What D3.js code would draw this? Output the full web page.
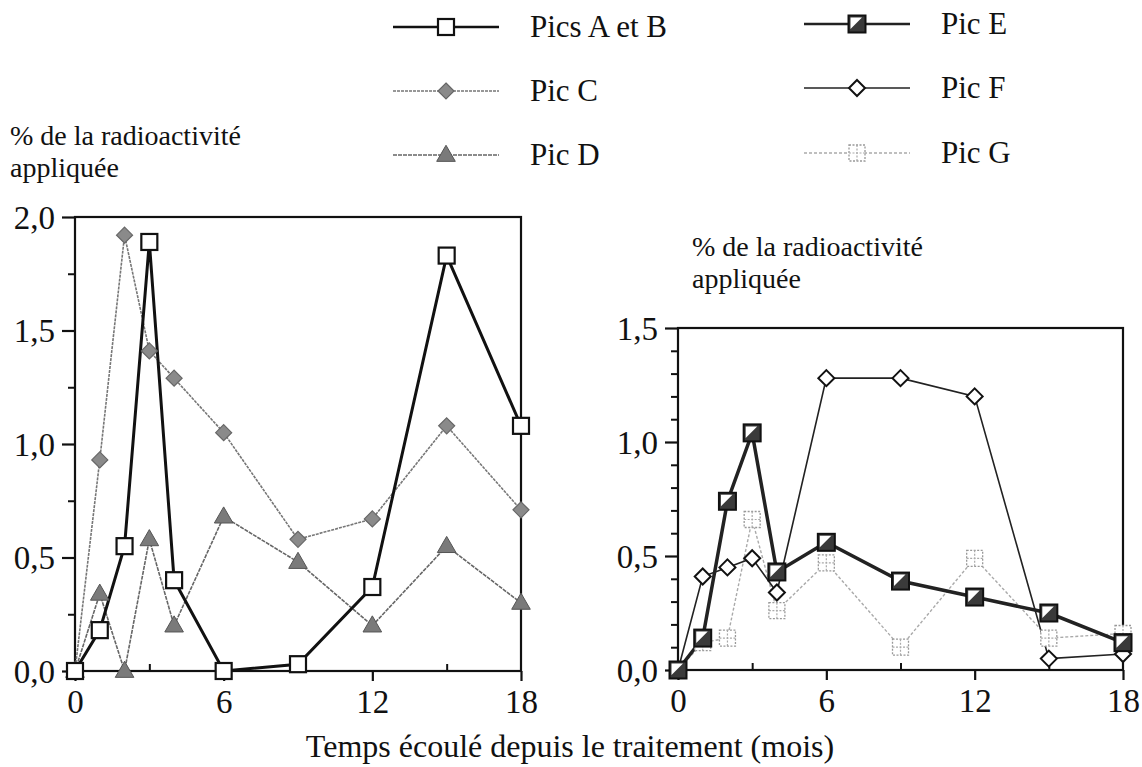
<!DOCTYPE html>
<html><head><meta charset="utf-8">
<script src="https://cdn.jsdelivr.net/npm/d3@7"></script>
<style>body{margin:0;background:#fff;}</style>
</head><body><svg id="c" width="1142" height="767"></svg>
<script>
const months = [0,1,2,3,4,6,9,12,15,18];
const picsAB = [0,0.18,0.55,1.89,0.40,0.0,0.03,0.37,1.83,1.08];
const picC  = [0,0.93,1.92,1.41,1.29,1.05,0.58,0.67,1.08,0.71];
const picD  = [0,0.34,0.0,0.58,0.20,0.68,0.48,0.20,0.55,0.30];
const picE  = [0,0.14,0.74,1.04,0.43,0.56,0.39,0.32,0.25,0.12];
const picF  = [0,0.41,0.45,0.49,0.34,1.28,1.28,1.20,0.05,0.07];
const picG  = [0,0.12,0.14,0.66,0.26,0.47,0.10,0.49,0.14,0.16];
const xTicks = [0,6,12,18];
const leftYTicks = ["0,0","0,5","1,0","1,5","2,0"];
const rightYTicks = ["0,0","0,5","1,0","1,5"];
const yLabel = ["% de la radioactivité","appliquée"];
const xTitle = "Temps écoulé depuis le traitement (mois)";
const legendNames = ["Pics A et B","Pic C","Pic D","Pic E","Pic F","Pic G"];

const FONT = "'Liberation Serif','Times New Roman',Times,serif";
const svg = d3.select("#c");

const styles = {
  AB:{stroke:"#111",width:3,dash:null,marker:"sqOpen"},
  C:{stroke:"#777",width:1.6,dash:"3,1",marker:"diaGray"},
  D:{stroke:"#666",width:1.6,dash:"4,1",marker:"triGray"},
  E:{stroke:"#222",width:3.5,dash:null,marker:"sqHalf"},
  F:{stroke:"#222",width:1.6,dash:null,marker:"diaOpen"},
  G:{stroke:"#aaa",width:1.4,dash:"3,2",marker:"sqDash"}
};

function drawMarker(g, type, x, y){
  if(type==="sqOpen"){
    g.append("rect").attr("x",x-8).attr("y",y-8).attr("width",16).attr("height",16)
     .attr("fill","#fff").attr("stroke","#111").attr("stroke-width",2.2);
  } else if(type==="sqHalf"){
    g.append("rect").attr("x",x-8.5).attr("y",y-8.5).attr("width",17).attr("height",17)
     .attr("fill","#3a3a3a").attr("stroke","#111").attr("stroke-width",2);
    g.append("path").attr("d",`M${x-6.5},${y-6.5}L${x+5},${y-6.5}L${x-6.5},${y+5}Z`).attr("fill","#fff");
  } else if(type==="diaOpen"){
    g.append("path").attr("d",`M${x},${y-8}L${x+8},${y}L${x},${y+8}L${x-8},${y}Z`)
     .attr("fill","#fff").attr("stroke","#111").attr("stroke-width",2);
  } else if(type==="diaGray"){
    g.append("path").attr("d",`M${x},${y-8}L${x+8},${y}L${x},${y+8}L${x-8},${y}Z`)
     .attr("fill","#8a8a8a").attr("stroke","#666").attr("stroke-width",1.2);
  } else if(type==="triGray"){
    g.append("path").attr("d",d3.symbol(d3.symbolTriangle,150)()).attr("transform",`translate(${x},${y+1})`)
     .attr("fill","#7a7a7a").attr("stroke","#555").attr("stroke-width",1);
  } else if(type==="sqDash"){
    g.append("rect").attr("x",x-8).attr("y",y-8).attr("width",16).attr("height",16)
     .attr("fill","#fff").attr("stroke","#999").attr("stroke-width",1.3).attr("stroke-dasharray","2,1.5");
    g.append("path").attr("d",`M${x},${y-8}V${y+8}M${x-8},${y}H${x+8}`)
     .attr("stroke","#aaa").attr("stroke-width",1.2).attr("stroke-dasharray","2,1.5");
  }
}

function chart(cfg){
  const x = d3.scaleLinear().domain([0,18]).range([cfg.x0,cfg.x1]);
  const y = d3.scaleLinear().domain([0,cfg.ymax]).range([cfg.y0,cfg.y1]);
  const g = svg.append("g");
  g.append("rect").attr("x",cfg.x0).attr("y",cfg.y1).attr("width",cfg.x1-cfg.x0).attr("height",cfg.y0-cfg.y1)
   .attr("fill","none").attr("stroke","#111").attr("stroke-width",2.2);
  const ya = d3.axisLeft(y).tickValues(d3.range(0,cfg.ymax+0.001,0.5)).tickSize(13)
     .tickFormat((d,i)=>cfg.yLabels[i]);
  const yg = g.append("g").attr("transform",`translate(${cfg.x0},0)`).call(ya);
  yg.select(".domain").remove();
  yg.selectAll("line").attr("stroke","#111").attr("stroke-width",2.2);
  yg.selectAll("text").style("font-family",FONT).attr("font-size",33).attr("fill","#111").attr("x",-20).attr("dy","0.34em");
  const ym = d3.axisLeft(y).tickValues(d3.range(0,cfg.ymax+0.001,cfg.minor).filter(v=>Math.abs(v/0.5-Math.round(v/0.5))>0.01)).tickSize(7).tickFormat("");
  const ymg = g.append("g").attr("transform",`translate(${cfg.x0},0)`).call(ym);
  ymg.select(".domain").remove();
  ymg.selectAll("line").attr("stroke","#111").attr("stroke-width",2);
  const xa = d3.axisBottom(x).tickValues(xTicks).tickSize(10).tickFormat(d=>String(d));
  const xg = g.append("g").attr("transform",`translate(0,${cfg.y0})`).call(xa);
  xg.select(".domain").remove();
  xg.selectAll("line").attr("stroke","#111").attr("stroke-width",2.2);
  xg.selectAll("text").style("font-family",FONT).attr("font-size",33).attr("fill","#111").attr("y",42).attr("dy",0);
  const xm = d3.axisTop(x).tickValues([3,9,15]).tickSize(7).tickFormat("");
  const xmg = g.append("g").attr("transform",`translate(0,${cfg.y0})`).call(xm);
  xmg.select(".domain").remove();
  xmg.selectAll("line").attr("stroke","#111").attr("stroke-width",2);
  cfg.labelPos.forEach((p,i)=>{
    g.append("text").attr("x",p[0]).attr("y",p[1]).style("font-family",FONT).attr("font-size",28).attr("fill","#111").text(yLabel[i]);
  });
  cfg.series.forEach(s=>{
    const st = styles[s.key];
    const line = d3.line().x((d,i)=>x(months[i])).y(d=>y(d));
    g.append("path").datum(s.data).attr("d",line).attr("fill","none")
     .attr("stroke",st.stroke).attr("stroke-width",st.width).attr("stroke-dasharray",st.dash);
  });
  cfg.series.forEach(s=>{
    const st = styles[s.key];
    s.data.forEach((d,i)=>drawMarker(g,st.marker,x(months[i]),y(d)));
  });
}

chart({x0:75,x1:521,y0:671,y1:217,ymax:2.0,minor:0.25,yLabels:leftYTicks,
  labelPos:[[10,145],[10,177]],
  series:[{key:"C",data:picC},{key:"D",data:picD},{key:"AB",data:picsAB}]});
chart({x0:678,x1:1123,y0:670,y1:328,ymax:1.5,minor:0.1,yLabels:rightYTicks,
  labelPos:[[692,256],[692,288]],
  series:[{key:"G",data:picG},{key:"F",data:picF},{key:"E",data:picE}]});

const legendItems = [
  {key:"AB",x:393,y:27,name:legendNames[0]},
  {key:"C",x:393,y:91,name:legendNames[1]},
  {key:"D",x:393,y:155,name:legendNames[2]},
  {key:"E",x:804,y:24,name:legendNames[3]},
  {key:"F",x:804,y:88,name:legendNames[4]},
  {key:"G",x:804,y:153,name:legendNames[5]}
];
const lg = svg.append("g");
legendItems.forEach(it=>{
  const st = styles[it.key];
  lg.append("line").attr("x1",it.x).attr("x2",it.x+106).attr("y1",it.y).attr("y2",it.y)
    .attr("stroke",st.stroke).attr("stroke-width",Math.min(st.width,2.5)).attr("stroke-dasharray",st.dash);
  drawMarker(lg,st.marker,it.x+53,it.y);
  lg.append("text").attr("x",it.x+137).attr("y",it.y+10).style("font-family",FONT).attr("font-size",31).attr("fill","#111").text(it.name);
});
svg.append("text").attr("x",570).attr("y",757).attr("text-anchor","middle").style("font-family",FONT).attr("font-size",32).attr("fill","#111").text(xTitle);
</script></body></html>
